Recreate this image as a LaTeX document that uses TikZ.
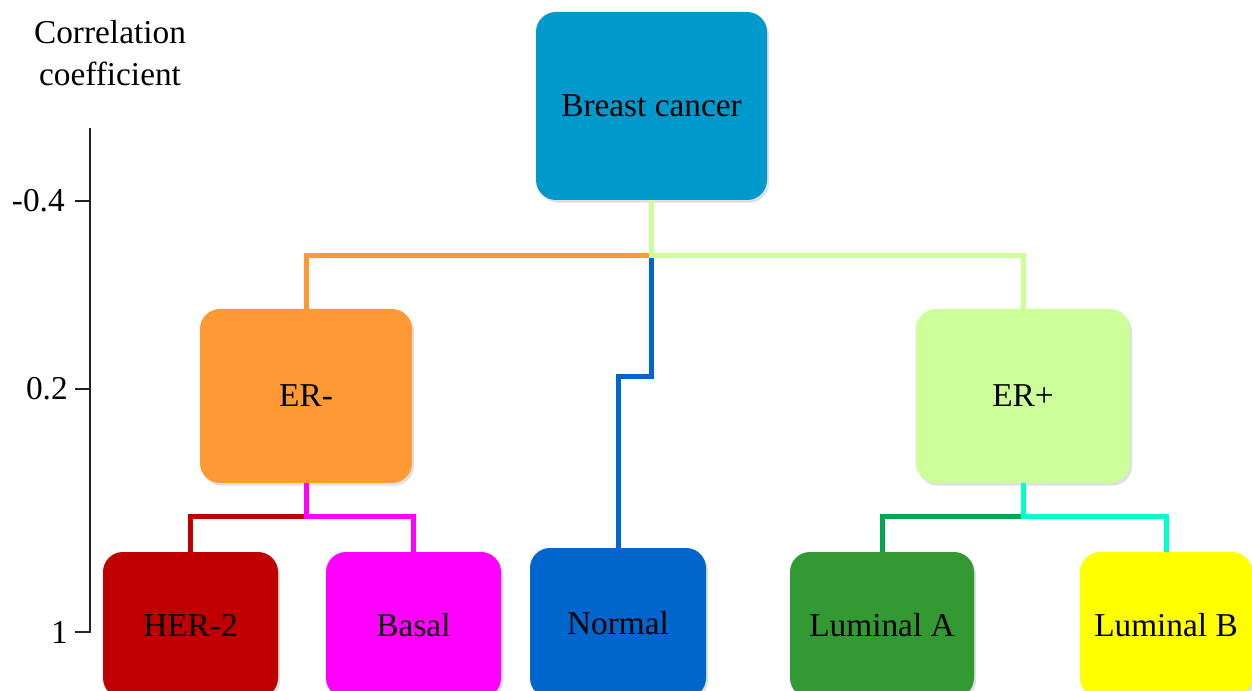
\documentclass[tikz,border=0pt]{standalone}
\usepackage{fontspec}
\setmainfont{Liberation Serif}
\usetikzlibrary{shadows}
\definecolor{cBC}{HTML}{0099CC}
\definecolor{cERm}{HTML}{FF9933}
\definecolor{cERp}{HTML}{CCFF99}
\definecolor{cHER}{HTML}{C00000}
\definecolor{cBas}{HTML}{FF00FF}
\definecolor{cNor}{HTML}{0066CC}
\definecolor{cLA}{HTML}{339933}
\definecolor{cLB}{HTML}{FFFF00}
\definecolor{lLA}{HTML}{00A650}
\definecolor{lLB}{HTML}{00FFCC}
\definecolor{axc}{HTML}{222222}
\begin{document}
\begin{tikzpicture}[x=0.75pt,y=-0.75pt,
  box/.style={rectangle,rounded corners=15pt,inner sep=0pt,draw=none,
    font=\fontsize{25}{30}\selectfont,text=black,
    drop shadow={opacity=0.25,shadow xshift=1.5pt,shadow yshift=-2pt}},
  conn/.style={line width=3.75pt},
  axis/.style={line width=1.5pt,draw=axc},
  lab/.style={font=\fontsize{25}{32}\selectfont,text=black,inner sep=0pt}]
\useasboundingbox[fill=white] (0,0) rectangle (1252,691);
% boxes
\node[box,fill=cBC,minimum width=173.25pt,minimum height=141pt] (bc) at (651.5,106) {Breast cancer};
\node[box,fill=cERm,minimum width=159pt,minimum height=130.5pt] (erm) at (306,396) {ER-};
\node[box,fill=cERp,minimum width=160.5pt,minimum height=130.5pt] (erp) at (1023,396) {ER+};
\begin{scope}
\clip (0,0) rectangle (1252,691);
\node[box,fill=cHER,minimum width=131.25pt,minimum height=109.5pt] (her) at (190.5,625) {HER-2};
\node[box,fill=cBas,minimum width=131.25pt,minimum height=109.5pt] (bas) at (413.5,625) {Basal};
\node[box,fill=cNor,minimum width=132pt,minimum height=112.5pt] (nor) at (618,623) {Normal};
\node[box,fill=cLA,minimum width=138pt,minimum height=109.5pt] (la) at (882,625) {Luminal A};
\node[box,fill=cLB,minimum width=129pt,minimum height=109.5pt] (lb) at (1166,625) {Luminal B};
\end{scope}
% junctions
\coordinate (j1) at (651.5,256);
\coordinate (b1) at (651.5,376);
\coordinate (j2) at (306,516);
\coordinate (j3) at (1023,516);
% connectors
\draw[conn,cNor] (j1) -- (b1) -| (nor.north);
\draw[conn,cERm] (j1) -| (erm.north);
\draw[conn,cERp] (bc.south) -- (j1) -| (erp.north);
\draw[conn,cHER] (j2) -| (her.north);
\draw[conn,cBas] (erm.south) -- (j2) -| (bas.north);
\draw[conn,lLA] (j3) -| (la.north);
\draw[conn,lLB] (erp.south) -- (j3) -| (lb.north);
% axis
\draw[axis] (90,128) -- (90,632) -- (75,632);
\draw[axis] (75,201) -- (90,201);
\draw[axis] (75,389) -- (90,389);
\node[lab,anchor=east] (t1) at (65,201) {-0.4};
\node[lab,anchor=east] (t2) at (68,389) {0.2};
\node[lab,anchor=east] (t3) at (68,632) {1};
\node[lab,align=center] (title) at (110,53) {Correlation\\coefficient};
\end{tikzpicture}
\end{document}
